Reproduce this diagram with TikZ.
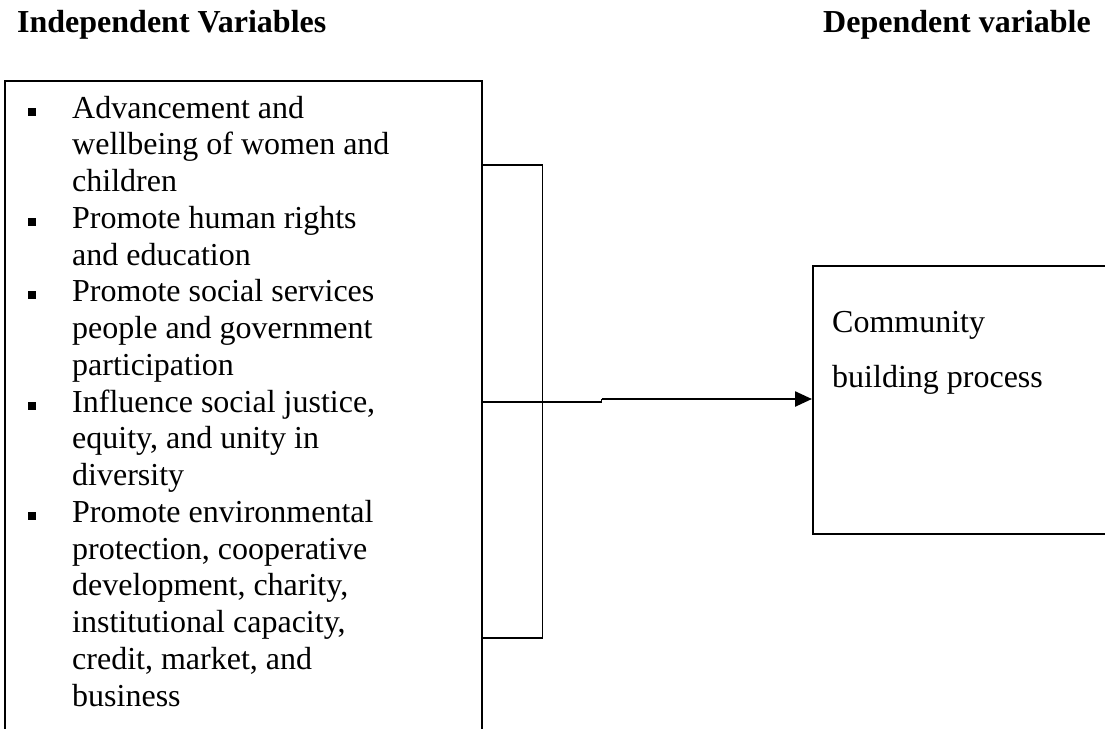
\documentclass[tikz,border=0pt]{standalone}
\usepackage{fontspec}
\setmainfont{Liberation Serif}
\usetikzlibrary{arrows.meta}
\begin{document}
\begin{tikzpicture}[x=1pt,y=-1pt,
  txt/.style={anchor=base west,inner sep=0pt,font=\fontsize{32}{36.75}\selectfont},
  head/.style={txt,font=\fontsize{32}{36.75}\selectfont\bfseries},
  boxline/.style={draw=black,line width=1.6pt},
  bul/.style={fill=black,draw=none,minimum size=8pt,inner sep=0pt,anchor=center},
  conn/.style={line width=1.6pt},
  arr/.style={line width=2.4pt,-{Triangle[length=17pt,width=15pt]}}]
\useasboundingbox (0,0) rectangle (1105,728);
\node[head] (hind) at (17,32) {Independent Variables};
\node[head] (hdep) at (823,32) {Dependent variable};
% boxes
\node[boxline,rectangle,minimum width=477pt,minimum height=670pt,anchor=north west,inner sep=0pt] (ind) at (4,80) {};
\node[boxline,rectangle,minimum width=310pt,minimum height=268pt,anchor=north west,inner sep=0pt] (dep) at (812,265) {};
% left text
\foreach \t [count=\i from 0] in {Advancement and,wellbeing of women and,children,Promote human rights,and education,Promote social services,people and government,participation,{Influence social justice,},{equity, and unity in},diversity,Promote environmental,{protection, cooperative},{development, charity,},{institutional capacity,},{credit, market, and},business}
  \node[txt] (l\i) at (72,118+36.75*\i) {\t};
\foreach \b in {0,3,5,8,11}
  \node[bul] (b\b) at (31.5,118+36.75*\b-6.5) {};
% right text
\node[txt] (c1) at (832,332) {Community};
\node[txt] (c2) at (832,387) {building process};
% bracket
\coordinate (bt) at (ind.north east |- 0,165);
\coordinate (bb) at (ind.north east |- 0,638);
\coordinate (bm) at (ind.north east |- 0,402);
\draw[conn] (bt) -- ++(60,0) coordinate (btr) -- (btr |- bb) -- (bb);
\draw[conn] (bm) -- ++(60,0) -- ++(59,0) coordinate (step);
\draw[conn] (step) -- ++(0,-3) coordinate (as);
\draw[arr] (as) -- (dep.west |- as);
\end{tikzpicture}
\end{document}
